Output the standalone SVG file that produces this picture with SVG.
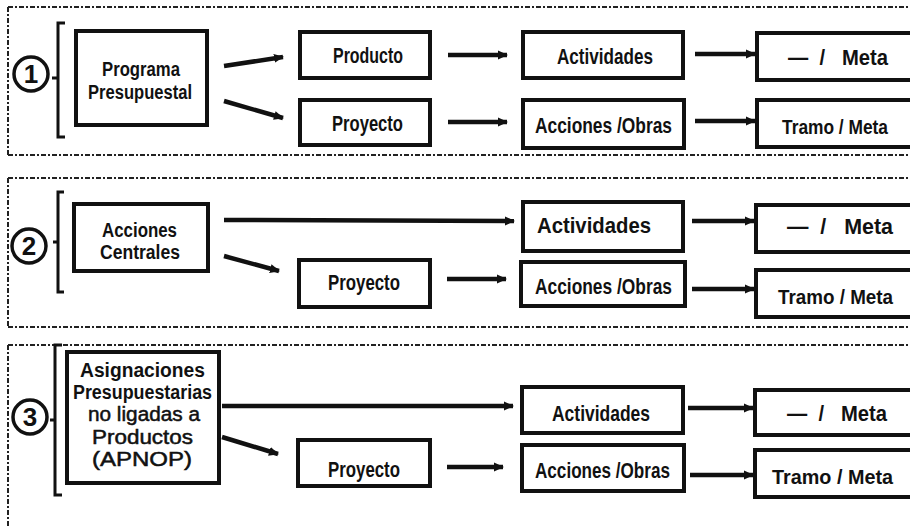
<svg xmlns="http://www.w3.org/2000/svg" width="910" height="526" viewBox="0 0 910 526">
<defs>
<marker id="ah" markerUnits="userSpaceOnUse" markerWidth="11" markerHeight="11" refX="9" refY="5.5" orient="auto">
<path d="M0,1 L10,5.5 L0,10 z" fill="#111"/>
</marker>
<style>
.bg{fill:#fff}
.frame{fill:none;stroke:#222;stroke-width:2;stroke-dasharray:5 2 2 2}
.box{fill:#fff;stroke:#111;stroke-width:4}
.br{fill:none;stroke:#111;stroke-width:3}
.circ{fill:#fff;stroke:#111;stroke-width:3.5}
.num{font-family:"Liberation Sans",Arial,sans-serif;font-weight:bold;font-size:26px;fill:#111;text-anchor:middle}
.t{font-family:"Liberation Sans Narrow","Liberation Sans",Arial,sans-serif;font-weight:bold;font-size:22px;fill:#111;white-space:pre}
.m{font-family:"Liberation Sans Narrow","Liberation Sans",Arial,sans-serif;font-weight:bold;font-size:20px;fill:#111}
.tn{font-family:"Liberation Sans Narrow","Liberation Sans",Arial,sans-serif;font-weight:normal;font-size:20px;fill:#111;stroke:#111;stroke-width:0.5}
.arr{fill:none;stroke:#111;stroke-width:4.5;marker-end:url(#ah)}
</style>
</defs>
<rect class="bg" x="0" y="0" width="910" height="526"/>

<g id="frames">
<path class="frame" d="M8,7 L910,7 M8,7 L8,155 M8,155 L910,155"/>
<path class="frame" d="M8,178 L910,178 M8,178 L8,327 M8,327 L910,327"/>
<path class="frame" d="M8,345 L910,345 M8,345 L8,526"/>
</g>

<g id="markers">
<circle class="circ" cx="31" cy="74" r="17"/><text class="num" x="31" y="83">1</text>
<path class="br" d="M65,23 L58,23 L58,137 L65,137 M58,78 L52,78"/>
<circle class="circ" cx="29" cy="246" r="17"/><text class="num" x="29" y="255">2</text>
<path class="br" d="M64,192 L58,192 L58,292 L64,292 M58,242 L53,242"/>
<circle class="circ" cx="30" cy="417" r="17"/><text class="num" x="30" y="426">3</text>
<path class="br" d="M62,345 L55,345 L55,495 L62,495 M55,420 L50,420"/>
</g>

<g id="connectors">
<line class="arr" x1="224" y1="66" x2="283" y2="57"/>
<line class="arr" x1="224" y1="101" x2="283" y2="118"/>
<line class="arr" x1="448" y1="55" x2="507" y2="55"/>
<line class="arr" x1="448" y1="122" x2="507" y2="122"/>
<line class="arr" x1="695" y1="54" x2="755" y2="54"/>
<line class="arr" x1="695" y1="121" x2="755" y2="121"/>
<line class="arr" x1="224" y1="220" x2="514" y2="221"/>
<line class="arr" x1="224" y1="256" x2="279" y2="271"/>
<line class="arr" x1="447" y1="279" x2="506" y2="279"/>
<line class="arr" x1="692" y1="221" x2="754" y2="221"/>
<line class="arr" x1="692" y1="289" x2="754" y2="289"/>
<line class="arr" x1="222" y1="406" x2="513" y2="406"/>
<line class="arr" x1="222" y1="437" x2="278" y2="454"/>
<line class="arr" x1="447" y1="467" x2="503" y2="467"/>
<line class="arr" x1="688" y1="408" x2="753" y2="408"/>
<line class="arr" x1="690" y1="475" x2="753" y2="475"/>
</g>

<g id="programa-presupuestal">
<rect class="box" x="76" y="31" width="131" height="94"/>
<text class="m" x="102" y="76" textLength="78" lengthAdjust="spacingAndGlyphs">Programa</text>
<text class="m" x="88" y="99" textLength="104" lengthAdjust="spacingAndGlyphs">Presupuestal</text>
</g>
<g id="s1-producto">
<rect class="box" x="300" y="32" width="130" height="46"/>
<text class="t" x="333" y="63" textLength="70" lengthAdjust="spacingAndGlyphs">Producto</text>
</g>
<g id="s1-proyecto">
<rect class="box" x="300" y="100" width="130" height="45"/>
<text class="t" x="332" y="131" textLength="71" lengthAdjust="spacingAndGlyphs">Proyecto</text>
</g>
<g id="s1-actividades">
<rect class="box" x="523" y="32" width="160" height="46"/>
<text class="t" x="557" y="64" textLength="96" lengthAdjust="spacingAndGlyphs">Actividades</text>
</g>
<g id="s1-acciones">
<rect class="box" x="523" y="100" width="161" height="48"/>
<text class="t" x="535" y="133" textLength="137" lengthAdjust="spacingAndGlyphs">Acciones /Obras</text>
</g>
<g id="s1-meta">
<rect class="box" x="757" y="33" width="170" height="47"/>
<text class="t" x="788" y="65" textLength="100" lengthAdjust="spacingAndGlyphs">—  /   Meta</text>
</g>
<g id="s1-tramo">
<rect class="box" x="757" y="100" width="170" height="47"/>
<text class="m" x="782" y="134" textLength="106" lengthAdjust="spacingAndGlyphs">Tramo / Meta</text>
</g>

<g id="acciones-centrales">
<rect class="box" x="74" y="204" width="134" height="67"/>
<text class="m" x="102" y="237" textLength="75" lengthAdjust="spacingAndGlyphs">Acciones</text>
<text class="m" x="100" y="259" textLength="80" lengthAdjust="spacingAndGlyphs">Centrales</text>
</g>
<g id="s2-actividades">
<rect class="box" x="523" y="202" width="160" height="49"/>
<text class="t" x="537" y="233" textLength="114" lengthAdjust="spacingAndGlyphs">Actividades</text>
</g>
<g id="s2-meta">
<rect class="box" x="756" y="205" width="170" height="47"/>
<text class="t" x="787" y="234" textLength="106" lengthAdjust="spacingAndGlyphs">—  /   Meta</text>
</g>
<g id="s2-proyecto">
<rect class="box" x="299" y="260" width="131" height="47"/>
<text class="t" x="328" y="290" textLength="72" lengthAdjust="spacingAndGlyphs">Proyecto</text>
</g>
<g id="s2-acciones">
<rect class="box" x="521" y="262" width="164" height="44"/>
<text class="t" x="535" y="294" textLength="137" lengthAdjust="spacingAndGlyphs">Acciones /Obras</text>
</g>
<g id="s2-tramo">
<rect class="box" x="756" y="270" width="170" height="47"/>
<text class="m" x="778" y="304" textLength="115" lengthAdjust="spacingAndGlyphs">Tramo / Meta</text>
</g>

<g id="apnop">
<rect class="box" x="67" y="352" width="152" height="131"/>
<text class="m" x="80" y="377" textLength="125" lengthAdjust="spacingAndGlyphs">Asignaciones</text>
<text class="m" x="73" y="399" textLength="139" lengthAdjust="spacingAndGlyphs">Presupuestarias</text>
<text class="tn" x="88" y="421" textLength="112" lengthAdjust="spacingAndGlyphs">no  ligadas a</text>
<text class="tn" x="92" y="444" textLength="101" lengthAdjust="spacingAndGlyphs">Productos</text>
<text class="tn" x="92" y="466" textLength="100" lengthAdjust="spacingAndGlyphs">(APNOP)</text>
</g>
<g id="s3-actividades">
<rect class="box" x="522" y="387" width="161" height="46"/>
<text class="t" x="552" y="421" textLength="98" lengthAdjust="spacingAndGlyphs">Actividades</text>
</g>
<g id="s3-meta">
<rect class="box" x="755" y="390" width="170" height="45"/>
<text class="t" x="787" y="421" textLength="100" lengthAdjust="spacingAndGlyphs">—  /   Meta</text>
</g>
<g id="s3-proyecto">
<rect class="box" x="298" y="440" width="132" height="46"/>
<text class="t" x="328" y="477" textLength="72" lengthAdjust="spacingAndGlyphs">Proyecto</text>
</g>
<g id="s3-acciones">
<rect class="box" x="522" y="445" width="162" height="46"/>
<text class="t" x="535" y="478" textLength="135" lengthAdjust="spacingAndGlyphs">Acciones /Obras</text>
</g>
<g id="s3-tramo">
<rect class="box" x="755" y="450" width="170" height="47"/>
<text class="m" x="772" y="484" textLength="121" lengthAdjust="spacingAndGlyphs">Tramo / Meta</text>
</g>
</svg>
